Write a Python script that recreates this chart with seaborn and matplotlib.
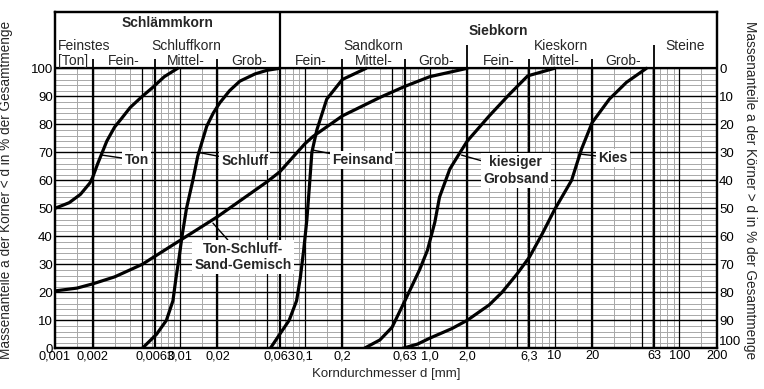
import matplotlib
matplotlib.use("Agg")
import matplotlib.pyplot as plt
import seaborn as sns
import pandas as pd
import numpy as np

# grain size curves (d in mm, passing in %)
ton_d = [0.001, 0.0013, 0.0016, 0.0019, 0.002, 0.0022, 0.0026, 0.003, 0.0034, 0.004, 0.005, 0.006, 0.0075, 0.0096]
ton_p = [50, 52, 55, 59, 61, 66, 74, 79, 82, 86, 90, 93, 97, 100]

schluff_d = [0.005, 0.0065, 0.0078, 0.0088, 0.0093, 0.0099, 0.0104, 0.0113, 0.0127, 0.0139,
             0.0164, 0.0185, 0.0209, 0.025, 0.0302, 0.04, 0.05, 0.063]
schluff_p = [0, 5, 10, 17, 25, 33, 40, 50, 60, 68.6, 79.3, 84, 87.7, 92, 95.4, 98, 99.3, 100]

gemisch_d = [0.001, 0.0015, 0.002, 0.003, 0.005, 0.01, 0.02, 0.05, 0.063, 0.1, 0.116, 0.2, 0.4, 0.63, 1.0, 2.0]
gemisch_p = [20.5, 21.5, 23, 25.5, 30, 38.5, 47, 59.5, 63, 73, 75.6, 83, 89.6, 93.5, 97, 100]

feinsand_d = [0.053, 0.063, 0.075, 0.086, 0.092, 0.098, 0.104, 0.109, 0.114, 0.125, 0.15, 0.2, 0.31]
feinsand_p = [0, 5, 10, 17, 25, 35, 46, 58, 70, 78, 89, 96, 100]

grobsand_d = [0.3, 0.4, 0.5, 0.65, 0.83, 0.96, 1.1, 1.2, 1.45, 1.7, 2.0, 3.0, 4.35, 6.1, 10]
grobsand_p = [0, 3, 7.5, 18, 28, 35, 45, 54, 64, 69, 74, 83, 90.7, 97.3, 100]

kies_d = [0.61, 0.8, 1.0, 1.5, 2.0, 3.0, 3.8, 5.0, 6.3, 8.0, 10, 13.7, 16.4, 20, 27.5, 37.7, 54.5]
kies_p = [0, 1.5, 3.6, 7, 10, 15.5, 20, 26.5, 32.6, 41, 49.5, 60, 71, 80.6, 89, 95, 100]

# axis ticks
x_ticks = [0.001, 0.002, 0.0063, 0.01, 0.02, 0.063, 0.1, 0.2, 0.63, 1.0, 2.0, 6.3, 10, 20, 63, 100, 200]
x_labels = ["0,001", "0,002", "0,0063", "0,01", "0,02", "0,063", "0,1", "0,2", "0,63", "1,0", "2,0",
            "6,3", "10", "20", "63", "100", "200"]
boundaries = [0.002, 0.0063, 0.02, 0.063, 0.2, 0.63, 2.0, 6.3, 20, 63]

curves = {"Ton": (ton_d, ton_p), "Schluff": (schluff_d, schluff_p),
          "Ton-Schluff-Sand-Gemisch": (gemisch_d, gemisch_p), "Feinsand": (feinsand_d, feinsand_p),
          "kiesiger Grobsand": (grobsand_d, grobsand_p), "Kies": (kies_d, kies_p)}
df = pd.concat([pd.DataFrame({"d": d, "p": p, "Boden": name}) for name, (d, p) in curves.items()])

sns.set_theme(style="white")
plt.rcParams["font.family"] = ["Liberation Sans", "DejaVu Sans"]

fig = plt.figure(figsize=(7.64, 3.89), dpi=100)
ax = fig.add_axes([55 / 764, 40.7 / 389, 662 / 764, 336 / 389])
ax.set_xscale("log")
ax.set_xlim(0.001, 200)
ax.set_ylim(0, 120)

# grid below the curves
decades = [0.001, 0.01, 0.1, 1, 10, 100]
minor = [m * dec for dec in decades for m in (1.5, 3, 4, 6, 7, 8, 9) if m * dec < 200]
major = [m * dec for dec in decades for m in (1, 2, 5) if 0.001 < m * dec < 200]
ax.vlines(minor, 0, 100, color="#a8a8a8", lw=0.7, zorder=1)
ax.hlines(np.arange(2, 100, 2), 0.001, 200, color="#a8a8a8", lw=0.7, zorder=1)
ax.hlines(np.arange(10, 101, 10), 0.001, 200, color="black", lw=1.0, zorder=2)
ax.vlines(major, 0, 100, color="black", lw=0.9, zorder=2)
ax.vlines(boundaries, 0, 100, color="black", lw=1.6, zorder=2)

# header separators
ax.vlines([0.002, 0.0063, 0.02, 0.2, 0.63, 6.3, 20], 100, 103.5, color="black", lw=1.3)
ax.vlines([2.0, 63], 100, 108.5, color="black", lw=1.3)
ax.vlines([0.063], 100, 120, color="black", lw=1.6)
ax.hlines([100], 0.001, 200, color="black", lw=1.6)

sns.lineplot(data=df, x="d", y="p", hue="Boden", palette=["black"] * 6, lw=2.3,
             sort=False, legend=False, ax=ax, zorder=4)

fs = 10
ax.text(0.0079, 116.2, "Schlämmkorn", ha="center", va="center", fontsize=fs, fontweight="bold")
ax.text(3.55, 113.5, "Siebkorn", ha="center", va="center", fontsize=fs, fontweight="bold")
ax.text(0.00105, 107.8, "Feinstes", ha="left", va="center", fontsize=fs)
ax.text(0.00105, 102.6, "[Ton]", ha="left", va="center", fontsize=fs)
for label, xc in [("Schluffkorn", 0.0112), ("Sandkorn", 0.355), ("Kieskorn", 11.2), ("Steine", 112)]:
    ax.text(xc, 107.8, label, ha="center", va="center", fontsize=fs)
names = ["Fein-", "Mittel-", "Grob-"]
for i in range(9):
    lo, hi = boundaries[i], boundaries[i + 1]
    ax.text(np.sqrt(lo * hi), 102.6, names[i % 3], ha="center", va="center", fontsize=fs)

box = dict(boxstyle="square,pad=0.15", fc="white", ec="none")
arrow = dict(arrowstyle="-", color="black", lw=1.0, shrinkA=0, shrinkB=0)
notes = [("Ton", (0.00238, 69), (0.0036, 67.2), "left"),
         ("Schluff", (0.0139, 70), (0.0215, 66.8), "left"),
         ("Feinsand", (0.116, 70.8), (0.165, 67.2), "left"),
         ("kiesiger\nGrobsand", (1.8, 69), (4.9, 63.5), "center"),
         ("Kies", (15.8, 69.4), (22.5, 68.0), "left"),
         ("Ton-Schluff-\nSand-Gemisch", (0.0184, 44.7), (0.032, 32.6), "center")]
for txt, xy, xyt, ha in notes:
    ax.annotate(txt, xy=xy, xytext=xyt, ha=ha, va="center", fontsize=fs, fontweight="bold",
                bbox=box, arrowprops=arrow, zorder=5, linespacing=1.2)

ax.set_xticks(x_ticks)
ax.set_xticklabels(x_labels)
ax.xaxis.set_minor_locator(matplotlib.ticker.NullLocator())
ax.set_yticks(np.arange(0, 101, 10))
ax.tick_params(axis="y", length=0, pad=1.5, labelsize=9.5, colors="black")
ax.tick_params(axis="x", length=0, pad=1.5, labelsize=9.2, colors="black")
ax.set_xlabel("Korndurchmesser d [mm]", fontsize=9.5, labelpad=4)
ax.set_ylabel("Massenanteile a der Körner < d in % der Gesamtmenge", fontsize=9.8)
ax.yaxis.set_label_coords(-0.064, 0.47)

ax2 = ax.twinx()
ax2.set_ylim(0, 120)
ax2.set_yticks(np.arange(0, 101, 10))
ax2.set_yticklabels([str(100 - v) for v in range(0, 101, 10)])
ax2.tick_params(axis="y", length=0, pad=1.5, labelsize=9.5, colors="black")
ax2.get_yticklabels()[0].set_verticalalignment("bottom")
ax2.set_ylabel("Massenanteile a der Körner > d in % der Gesamtmenge", fontsize=9.8, rotation=270)
ax2.yaxis.set_label_coords(1.06, 0.47)

for a in (ax, ax2):
    for s in a.spines.values():
        s.set_color("black")
        s.set_linewidth(1.6)

fig.savefig("out.png", dpi=100)
